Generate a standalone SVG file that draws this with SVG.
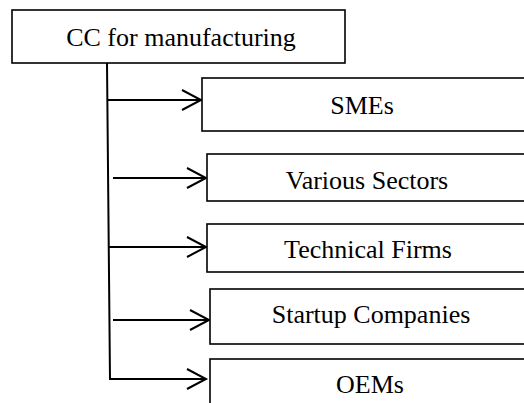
<svg xmlns="http://www.w3.org/2000/svg" width="524" height="403" viewBox="0 0 524 403">
  <defs>
    <marker id="chevron" viewBox="-21 -12 24 24" markerWidth="24" markerHeight="24" refX="0" refY="0" markerUnits="userSpaceOnUse" orient="auto" overflow="visible">
      <path d="M -19 -10 L 0 0 L -19 10" fill="none" stroke="#000" stroke-width="2"/>
    </marker>
  </defs>
  <style>
    .box { fill: #fff; stroke: #000; stroke-width: 1.6; }
    .label { font-family: "Liberation Serif", "Times New Roman", serif; font-size: 26px; fill: #000; text-anchor: middle; }
    .link { fill: none; stroke: #000; stroke-width: 2; }
  </style>
  <rect width="524" height="403" fill="#fff"/>

  <!-- connectors: trunk from the root plus one arrow per branch -->
  <g id="connectors">
    <path class="link" d="M 107 63 L 110 379 L 206 379" marker-end="url(#chevron)"/>
    <path class="link" d="M 107 100 L 201 100" marker-end="url(#chevron)"/>
    <path class="link" d="M 113 178 L 206 178" marker-end="url(#chevron)"/>
    <path class="link" d="M 108 247 L 206 247" marker-end="url(#chevron)"/>
    <path class="link" d="M 113 320 L 209 320" marker-end="url(#chevron)"/>
  </g>

  <g id="root">
    <rect class="box" x="12" y="10" width="333" height="53"/>
    <text class="label" x="181" y="46">CC for manufacturing</text>
  </g>
  <g id="smes">
    <rect class="box" x="202" y="78" width="330" height="53"/>
    <text class="label" x="362" y="114">SMEs</text>
  </g>
  <g id="various-sectors">
    <rect class="box" x="207" y="154" width="325" height="47"/>
    <text class="label" x="367" y="189">Various Sectors</text>
  </g>
  <g id="technical-firms">
    <rect class="box" x="207" y="224" width="325" height="48"/>
    <text class="label" x="368" y="258">Technical Firms</text>
  </g>
  <g id="startup-companies">
    <rect class="box" x="210" y="289" width="322" height="55"/>
    <text class="label" x="371" y="323">Startup Companies</text>
  </g>
  <g id="oems">
    <rect class="box" x="210" y="359" width="322" height="60"/>
    <text class="label" x="370" y="393">OEMs</text>
  </g>
</svg>
